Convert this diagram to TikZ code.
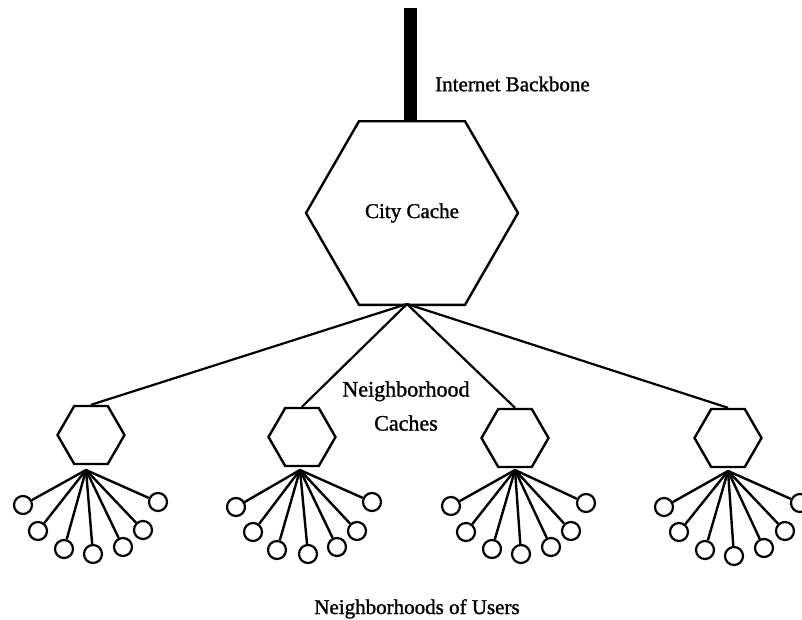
\documentclass[tikz,border=0pt]{standalone}
\usepackage{fontspec}
% heavier strokes for the labels, keeping the regular Times widths
\setmainfont{Liberation Serif}[BoldFont={Liberation Serif}, BoldFeatures={FakeBold=1.3}]
\usetikzlibrary{shapes.geometric}
\begin{document}
\begin{tikzpicture}[x=1pt,y=-1pt,
  hexbox/.style={regular polygon, regular polygon sides=6, draw, line width=2.4pt, inner sep=0pt},
  cityhex/.style={hexbox, minimum size=212pt, font=\fontsize{21}{21}\selectfont\bfseries},
  nbhex/.style={hexbox, minimum size=67pt},
  user/.style={circle, draw, line width=2.2pt, minimum size=18pt, inner sep=0pt},
  link/.style={line width=2.2pt},
  spoke/.style={line width=2.4pt},
  backbone/.style={line width=13pt},
  lbl/.style={font=\fontsize{21}{21}\selectfont\bfseries, inner sep=0pt}
]
\useasboundingbox (0,0) rectangle (802,619);
\clip (0,0) rectangle (802,619);

% city cache fed by the backbone
\node[cityhex] (city) at (412,213) {City Cache};
\coordinate (bbtop) at (410,8);
\draw[backbone] (bbtop) -- (bbtop |- city.north);
\node[lbl, anchor=west] (bblbl) at (435,84) {Internet Backbone};

% neighborhood caches
\node[nbhex] (n1) at (91,435) {};
\node[nbhex] (n2) at (302,437) {};
\node[nbhex] (n3) at (515,438) {};
\node[nbhex] (n4) at (728,438) {};

\coordinate (cityout) at (407,304);
\foreach \n in {n1,n2,n3,n4}
  \draw[link] (cityout) -- (\n.north);

\node[align=center, inner sep=0pt, font=\fontsize{22}{34}\selectfont\bfseries] (nblbl) at (406,406) {Neighborhood\\Caches};

% fan-out points below each neighborhood cache
\coordinate (f1) at (86,470);
\coordinate (f2) at (300,470);
\coordinate (f3) at (515,470);
\coordinate (f4) at (728,471);

% users of each neighborhood
\foreach [count=\i] \p in {(23,505),(38,531),(64,549),(93,554),(123,547),(143,530),(158,502)} {
  \node[user] (ua\i) at \p {};
  \draw[spoke] (f1) -- (ua\i);
}
\foreach [count=\i] \p in {(236,507),(253,532),(277,550),(308,554),(337,547),(357,531),(372,502)} {
  \node[user] (ub\i) at \p {};
  \draw[spoke] (f2) -- (ub\i);
}
\foreach [count=\i] \p in {(451,506),(466,532),(492,549),(521,554),(551,547),(571,531),(586,503)} {
  \node[user] (uc\i) at \p {};
  \draw[spoke] (f3) -- (uc\i);
}
\foreach [count=\i] \p in {(664,507),(679,532),(705,550),(734,556),(764,548),(785,531),(800,503)} {
  \node[user] (ud\i) at \p {};
  \draw[spoke] (f4) -- (ud\i);
}

\node[lbl, anchor=base] (userlbl) at (417,614) {Neighborhoods of Users};
\end{tikzpicture}
\end{document}
